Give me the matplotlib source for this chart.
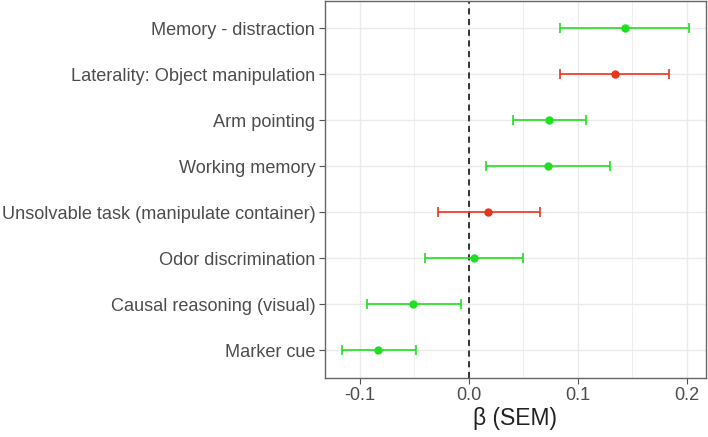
import matplotlib.pyplot as plt
from matplotlib.ticker import MultipleLocator

plt.rcParams.update({
    'font.family': ['Liberation Sans', 'DejaVu Sans'],
})

# Tasks from bottom to top
tasks = ['Marker cue', 'Causal reasoning (visual)', 'Odor discrimination',
         'Unsolvable task (manipulate container)', 'Working memory',
         'Arm pointing', 'Laterality: Object manipulation', 'Memory - distraction']
beta = [-0.083, -0.051, 0.005, 0.018, 0.073, 0.074, 0.134, 0.143]
ci_low = [-0.1165, -0.0936, -0.040, -0.0287, 0.0162, 0.0404, 0.084, 0.084]
ci_high = [-0.0486, -0.0073, 0.0495, 0.0657, 0.1294, 0.1076, 0.1835, 0.2018]
group = ['g', 'g', 'g', 'r', 'g', 'g', 'r', 'g']

colors = {'g': '#1EE01E', 'r': '#E8341C'}

fig = plt.figure(figsize=(7.08, 4.37), dpi=100)
ax = fig.add_axes([0.459, 0.136, 0.538, 0.862])

ypos = list(range(1, len(tasks) + 1))
for y, b, lo, hi, g in zip(ypos, beta, ci_low, ci_high, group):
    c = colors[g]
    ax.errorbar(b, y, xerr=[[b - lo], [hi - b]], fmt='o', color=c,
                ecolor=c, elinewidth=1.2, capsize=3.5, capthick=1.2,
                markersize=5, zorder=3)

ax.axvline(0, color='black', linestyle=(0, (4, 3)), linewidth=1.1, zorder=2)

ax.set_xlim(-0.132, 0.2175)
ax.set_ylim(0.4, 8.6)
ax.set_yticks(ypos)
ax.set_yticklabels(tasks)
ax.xaxis.set_major_locator(MultipleLocator(0.1))
ax.xaxis.set_minor_locator(MultipleLocator(0.05))
ax.set_xticks([-0.1, 0.0, 0.1, 0.2])
ax.set_xticklabels(['-0.1', '0.0', '0.1', '0.2'])

ax.grid(which='major', color='#EBEBEB', linewidth=1.0, zorder=0)
ax.grid(which='minor', axis='x', color='#EBEBEB', linewidth=0.6, zorder=0)
ax.set_axisbelow(True)

for s in ax.spines.values():
    s.set_color('#666666')
    s.set_linewidth(1.0)

ax.tick_params(axis='both', which='major', colors='#555555', length=4,
               labelsize=13.1, labelcolor='#4D4D4D', pad=3)
ax.tick_params(axis='x', which='minor', length=0)

ax.set_xlabel('β (SEM)', fontsize=16.5, color='#222222', labelpad=2)

plt.savefig('out.png', dpi=100)
